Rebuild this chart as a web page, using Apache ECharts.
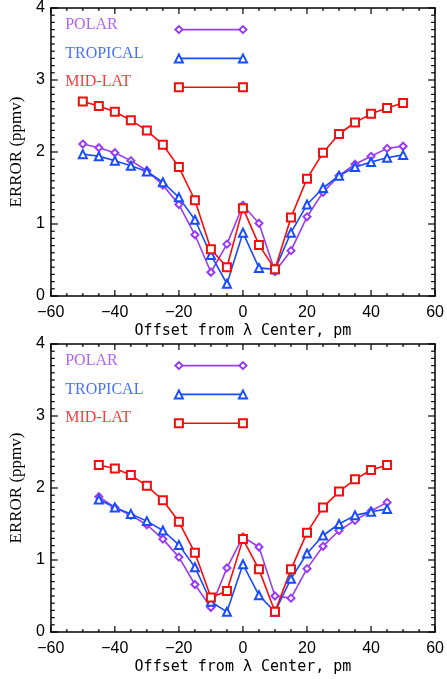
<!DOCTYPE html>
<html>
<head>
<meta charset="utf-8">
<script src="https://cdn.jsdelivr.net/npm/echarts@6/dist/echarts.min.js"></script>
<style>
html,body{margin:0;padding:0;background:#fff;}
#chart{width:447px;height:679px;}
</style>
</head>
<body>
<div id="chart"></div>
<script>
// ---- data ----
const xTop = [-50,-45,-40,-35,-30,-25,-20,-15,-10,-5,0,5,10,15,20,25,30,35,40,45,50];
const polarTop = [2.11,2.06,1.99,1.88,1.74,1.54,1.27,0.85,0.33,0.72,1.26,1.01,0.34,0.63,1.10,1.44,1.67,1.83,1.94,2.05,2.08];
const tropicalTop = [1.97,1.94,1.88,1.81,1.73,1.58,1.37,1.06,0.57,0.17,0.88,0.39,0.37,0.88,1.27,1.50,1.67,1.79,1.86,1.92,1.96];
const midlatTop = [2.70,2.64,2.56,2.44,2.30,2.10,1.79,1.33,0.65,0.40,1.22,0.71,0.37,1.09,1.63,1.99,2.25,2.41,2.53,2.61,2.68];

const xBottom = [-45,-40,-35,-30,-25,-20,-15,-10,-5,0,5,10,15,20,25,30,35,40,45];
const polarBottom = [1.88,1.73,1.62,1.49,1.29,1.04,0.66,0.34,0.89,1.32,1.18,0.50,0.47,0.88,1.19,1.41,1.55,1.68,1.80];
const tropicalBottom = [1.84,1.73,1.64,1.54,1.41,1.21,0.90,0.42,0.28,0.94,0.51,0.28,0.74,1.09,1.34,1.50,1.62,1.67,1.71];
const midlatBottom = [2.32,2.27,2.18,2.03,1.83,1.53,1.10,0.48,0.57,1.29,0.87,0.28,0.87,1.38,1.73,1.95,2.12,2.25,2.32];

const seriesNames = ['POLAR','TROPICAL','MID-LAT'];
const legendLineX = [-20, 0];
const legendLineY = [3.7, 3.3, 2.9];
const legendTextX = -55.5;
const legendTextY = [3.77, 3.37, 2.97];

// tick values
const xMajorTicks = [-60,-40,-20,0,20,40,60];
const xMinorTicks = [-55,-50,-45,-35,-30,-25,-15,-10,-5,5,10,15,25,30,35,45,50,55];
const yMajorTicks = [0,1,2,3,4];
const yMinorTicks = [0.1,0.2,0.3,0.4,0.5,0.6,0.7,0.8,0.9,
                     1.1,1.2,1.3,1.4,1.5,1.6,1.7,1.8,1.9,
                     2.1,2.2,2.3,2.4,2.5,2.6,2.7,2.8,2.9,
                     3.1,3.2,3.3,3.4,3.5,3.6,3.7,3.8,3.9];

const xTicks = {min:-60, max:60, interval:20};
const yTicks = {min:0, max:4, interval:1};
// ---- style ----
const colors = ['#9a3cf0','#1a4cff','#ff0a0a'];
const symbols = ['emptyDiamond','emptyTriangle','emptyRect'];
const symSizes = [7,8,8];
const tickLen = {xMajor:6, xMinor:3, yMajor:7, yMinor:4};

const fmt = v => v < 0 ? '\u2212' + Math.abs(v) : String(v);

function xAx(gi, main){
  const o = {
    type:'value', gridIndex:gi, position: main ? 'bottom' : 'top',
    min:xTicks.min, max:xTicks.max, interval:xTicks.interval,
    axisLine:{show:true, onZero:false, lineStyle:{color:'#000', width:1.5}},
    axisTick:{show:false}, minorTick:{show:false},
    splitLine:{show:false},
    axisLabel:{show:main, formatter:fmt, fontFamily:'Liberation Sans', fontSize:16, color:'#000', margin:9}
  };
  if (main) {
    o.name = 'Offset from \u03bb Center, pm';
    o.nameLocation = 'middle'; o.nameGap = 28;
    o.nameTextStyle = {fontFamily:'DejaVu Sans Mono', fontSize:15, color:'#000'};
  }
  return o;
}
function yAx(gi, main){
  const o = {
    type:'value', gridIndex:gi, position: main ? 'left' : 'right',
    min:yTicks.min, max:yTicks.max, interval:yTicks.interval,
    axisLine:{show:true, onZero:false, lineStyle:{color:'#000', width:1.5}},
    axisTick:{show:false}, minorTick:{show:false},
    splitLine:{show:false},
    axisLabel:{show:main, fontFamily:'Liberation Sans', fontSize:16, color:'#000', margin:6}
  };
  if (main) {
    o.name = 'ERROR (ppmv)';
    o.nameLocation = 'middle'; o.nameGap = 25;
    o.nameTextStyle = {fontFamily:'Liberation Serif', fontSize:17, color:'#000'};
  }
  return o;
}

// tick data: [x, y, kind(0=x tick,1=y tick), major(1/0)]
function tickData(){
  const d = [];
  xMajorTicks.forEach(v => d.push([v, yTicks.min, 0, 1]));
  xMinorTicks.forEach(v => d.push([v, yTicks.min, 0, 0]));
  yMajorTicks.forEach(v => d.push([xTicks.min, v, 1, 1]));
  yMinorTicks.forEach(v => d.push([xTicks.min, v, 1, 0]));
  return d;
}
function renderTick(params, api){
  const cs = params.coordSys;
  const p = api.coord([api.value(0), api.value(1)]);
  const kind = api.value(2), major = api.value(3);
  const st = {stroke:'#000', lineWidth:1.2};
  if (kind === 0) {
    const L = major ? tickLen.xMajor : tickLen.xMinor;
    const yb = cs.y + cs.height, yt = cs.y;
    return {type:'group', children:[
      {type:'line', shape:{x1:p[0], y1:yb, x2:p[0], y2:yb - L}, style:st},
      {type:'line', shape:{x1:p[0], y1:yt, x2:p[0], y2:yt + L}, style:st}
    ]};
  }
  const L = major ? tickLen.yMajor : tickLen.yMinor;
  const xl = cs.x, xr = cs.x + cs.width;
  return {type:'group', children:[
    {type:'line', shape:{x1:xl, y1:p[1], x2:xl + L, y2:p[1]}, style:st},
    {type:'line', shape:{x1:xr, y1:p[1], x2:xr - L, y2:p[1]}, style:st}
  ]};
}

function panelSeries(gi, xs, arrs){
  const xi = gi*2, yi = gi*2;
  const out = [];
  arrs.forEach((vals, k) => {
    out.push({
      type:'line', xAxisIndex:xi, yAxisIndex:yi, name:seriesNames[k],
      data: xs.map((x,i)=>[x, vals[i]]),
      symbol:symbols[k], symbolSize:symSizes[k],
      lineStyle:{color:colors[k], width:1.6},
      itemStyle:{color:colors[k], borderWidth:k===0 ? 2 : 1.5}
    });
    out.push({
      type:'line', xAxisIndex:xi, yAxisIndex:yi, name:seriesNames[k]+' key',
      data: legendLineX.map(x=>[x, legendLineY[k]]),
      symbol:symbols[k], symbolSize:symSizes[k],
      lineStyle:{color:colors[k], width:1.6},
      itemStyle:{color:colors[k], borderWidth:k===0 ? 2 : 1.5}
    });
    out.push({
      type:'scatter', xAxisIndex:xi, yAxisIndex:yi, name:seriesNames[k]+' label',
      data:[[legendTextX, legendTextY[k]]],
      symbolSize:0,
      label:{show:true, position:'right', distance:0, formatter:seriesNames[k],
             color:colors[k], fontFamily:'Liberation Serif', fontSize:16},
      silent:true
    });
  });
  out.push({
    type:'custom', xAxisIndex:xi, yAxisIndex:yi, name:'ticks'+gi,
    data: tickData(), renderItem: renderTick, clip:false, silent:true, z:10
  });
  return out;
}

const chart = echarts.init(document.getElementById('chart'));
chart.setOption({
  animation:false,
  grid:[
    {left:50, top:8, width:389, height:288},
    {left:49, top:344, width:388, height:288}
  ],
  xAxis:[xAx(0,true), xAx(0,false), xAx(1,true), xAx(1,false)],
  yAxis:[yAx(0,true), yAx(0,false), yAx(1,true), yAx(1,false)],
  series: panelSeries(0, xTop, [polarTop, tropicalTop, midlatTop])
    .concat(panelSeries(1, xBottom, [polarBottom, tropicalBottom, midlatBottom]))
});
</script>
</body>
</html>
